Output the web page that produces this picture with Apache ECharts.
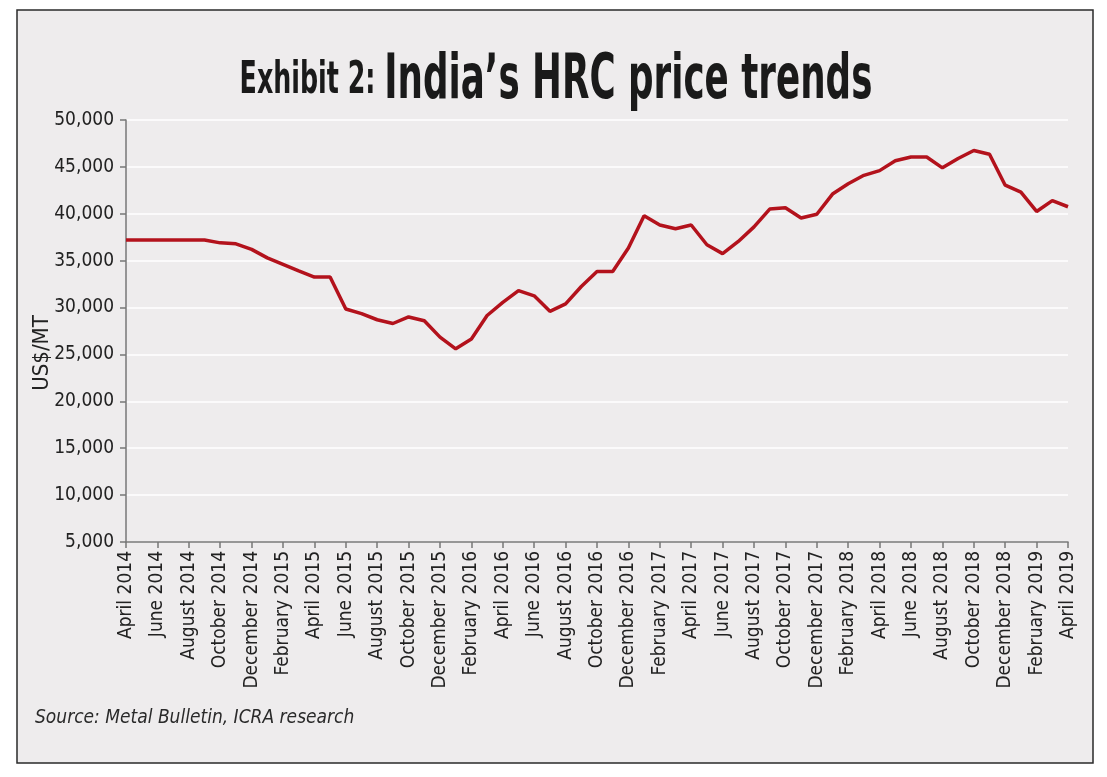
<!DOCTYPE html>
<html>
<head>
<meta charset="utf-8">
<title>India's HRC price trends</title>
<script src="https://cdn.jsdelivr.net/npm/echarts@6/dist/echarts.min.js"></script>
<style>
    html, body { margin: 0; padding: 0; background: #fff; }
    #chart { width: 1107px; height: 777px; }
</style>
</head>
<body>
<div id="chart"></div>
<script>
// monthly categories, April 2014 - April 2019
let months = [
    'April 2014', 'May 2014', 'June 2014', 'July 2014', 'August 2014', 'September 2014',
    'October 2014', 'November 2014', 'December 2014', 'January 2015', 'February 2015', 'March 2015',
    'April 2015', 'May 2015', 'June 2015', 'July 2015', 'August 2015', 'September 2015',
    'October 2015', 'November 2015', 'December 2015', 'January 2016', 'February 2016', 'March 2016',
    'April 2016', 'May 2016', 'June 2016', 'July 2016', 'August 2016', 'September 2016',
    'October 2016', 'November 2016', 'December 2016', 'January 2017', 'February 2017', 'March 2017',
    'April 2017', 'May 2017', 'June 2017', 'July 2017', 'August 2017', 'September 2017',
    'October 2017', 'November 2017', 'December 2017', 'January 2018', 'February 2018', 'March 2018',
    'April 2018', 'May 2018', 'June 2018', 'July 2018', 'August 2018', 'September 2018',
    'October 2018', 'November 2018', 'December 2018', 'January 2019', 'February 2019', 'March 2019',
    'April 2019'
];

// HRC price, US$/MT
let hrcPrice = [
    37200, 37200, 37200, 37200, 37200, 37200,
    36900, 36800, 36200, 35300, 34600, 33900,
    33250, 33250, 29850, 29350, 28700, 28300,
    29000, 28600, 26850, 25600, 26650, 29150,
    30550, 31800, 31250, 29600, 30400, 32250,
    33850, 33850, 36350, 39800, 38800, 38400,
    38800, 36700, 35750, 37050, 38600, 40500,
    40650, 39550, 39950, 42100, 43200, 44100,
    44600, 45650, 46050, 46050, 44900, 45900,
    46750, 46350, 43050, 42300, 40250, 41400,
    40750
];

let yTicks = {min: 5000, max: 50000, step: 5000};

let FONT = "'DejaVu Sans Condensed', 'Liberation Sans Narrow', Arial, sans-serif";

let myChart = echarts.init(document.getElementById('chart'));
let option = {
    animation: false,
    backgroundColor: '#ffffff',
    textStyle: {fontFamily: FONT},
    graphic: [
        {
            type: 'rect',
            z: -10,
            silent: true,
            shape: {x: 17, y: 10, width: 1076, height: 753},
            style: {fill: '#eeeced', stroke: '#2a2a2a', lineWidth: 1.5}
        },
        {
            type: 'text',
            x: 556,
            y: 82,
            scaleX: 0.64,
            style: {
                text: '{a|Exhibit 2: }{b|India\u2019s HRC price trends}',
                align: 'center',
                verticalAlign: 'middle',
                fill: '#1a1a1a',
                rich: {
                    a: {fontFamily: FONT, fontWeight: 'bold', fontSize: 44, fill: '#1a1a1a'},
                    b: {fontFamily: FONT, fontWeight: 'bold', fontSize: 62, fill: '#1a1a1a'}
                }
            }
        },
        {
            type: 'text',
            x: 42,
            y: 353,
            rotation: Math.PI / 2,
            style: {
                text: 'US$/MT',
                align: 'center',
                verticalAlign: 'middle',
                fontFamily: FONT,
                fontSize: 22,
                fill: '#222'
            }
        },
        {
            type: 'text',
            x: 35,
            y: 718,
            style: {
                text: 'Source: Metal Bulletin, ICRA research',
                align: 'left',
                verticalAlign: 'middle',
                fontFamily: FONT,
                fontStyle: 'italic',
                fontSize: 19,
                fill: '#2a2a2a'
            }
        }
    ],
    grid: {
        left: 126,
        right: 39,
        top: 120,
        bottom: 235
    },
    xAxis: {
        type: 'category',
        data: months,
        boundaryGap: false,
        axisLine: {lineStyle: {color: '#777', width: 1.5}},
        axisTick: {interval: 1, length: 6, lineStyle: {color: '#777', width: 1.5}},
        axisLabel: {
            interval: 1,
            rotate: 90,
            margin: 9,
            fontSize: 19,
            color: '#222',
            fontFamily: FONT
        },
        splitLine: {show: false}
    },
    yAxis: {
        type: 'value',
        min: yTicks.min,
        max: yTicks.max,
        interval: yTicks.step,
        axisLine: {show: true, lineStyle: {color: '#777', width: 1.5}},
        axisTick: {show: true, length: 6, lineStyle: {color: '#777', width: 1.5}},
        axisLabel: {
            margin: 12,
            fontSize: 19,
            color: '#222',
            fontFamily: FONT,
            formatter: function (v) {
                return v.toLocaleString('en-US');
            }
        },
        splitLine: {lineStyle: {color: '#ffffff', width: 1.5}}
    },
    series: [
        {
            name: 'HRC price',
            type: 'line',
            data: hrcPrice,
            symbol: 'none',
            lineStyle: {color: '#b3121c', width: 3.5},
            z: 3
        }
    ]
};
myChart.setOption(option);
</script>
</body>
</html>
